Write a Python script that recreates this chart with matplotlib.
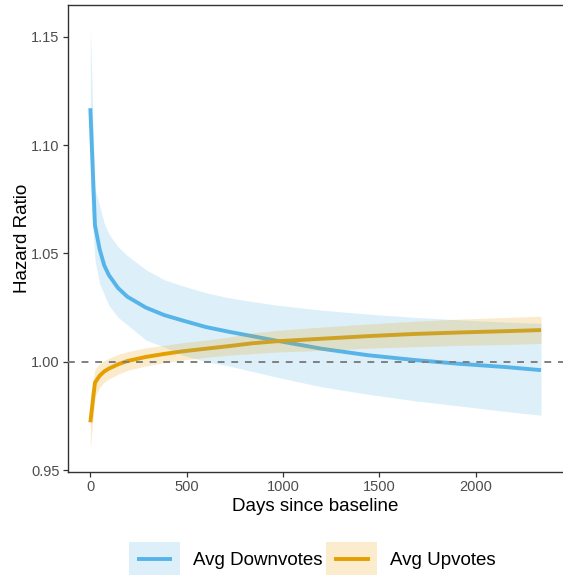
import matplotlib
matplotlib.use("Agg")
import matplotlib.pyplot as plt
from matplotlib.patches import Patch, Rectangle
from matplotlib.lines import Line2D
from matplotlib.legend_handler import HandlerPatch

plt.rcParams['font.family'] = ['Liberation Sans', 'DejaVu Sans']

# values
days = [0, 24, 48, 72, 96, 144, 192, 288, 384, 480, 600, 720, 840, 960,
        1200, 1440, 1680, 1920, 2160, 2339]

down_hr = [1.117, 1.063, 1.052, 1.0445, 1.040, 1.034, 1.030, 1.025, 1.0215, 1.019,
           1.016, 1.0138, 1.0118, 1.0098, 1.006, 1.003, 1.0008, 0.999, 0.9975, 0.9961]
down_hi = [1.155, 1.080, 1.072, 1.064, 1.059, 1.053, 1.049, 1.0425, 1.0378, 1.035,
           1.0318, 1.0295, 1.0278, 1.0262, 1.0238, 1.022, 1.0205, 1.0193, 1.0183, 1.0177]
down_lo = [1.080, 1.047, 1.036, 1.031, 1.026, 1.0205, 1.017, 1.010, 1.0068, 1.003,
           1.000, 0.998, 0.9955, 0.993, 0.9884, 0.985, 0.982, 0.9795, 0.977, 0.9753]

up_hr = [0.972, 0.9903, 0.9935, 0.9955, 0.9968, 0.9988, 1.0003, 1.0022, 1.0036, 1.0048,
         1.0060, 1.0072, 1.0085, 1.0094, 1.0106, 1.0118, 1.0128, 1.0135, 1.0141, 1.0146]
up_hi = [0.984, 0.9965, 0.9990, 1.0005, 1.0016, 1.0034, 1.0046, 1.0064, 1.0076, 1.0088,
         1.0100, 1.0114, 1.0133, 1.0144, 1.0160, 1.0174, 1.0187, 1.0197, 1.0204, 1.0210]
up_lo = [0.960, 0.984, 0.988, 0.9905, 0.992, 0.9942, 0.9960, 0.9980, 0.9996, 1.0008,
         1.0020, 1.0030, 1.0037, 1.0044, 1.0052, 1.0062, 1.0069, 1.0075, 1.0079, 1.0084]

labels = ['Avg Downvotes', 'Avg Upvotes']
colors = ['#56B4E9', '#E69F00']
x_ticks = [0, 500, 1000, 1500, 2000]
y_ticks = [0.95, 1.00, 1.05, 1.10, 1.15]


class RibbonKey(HandlerPatch):
    # ggplot-like legend key: filled box with a short line across it
    def create_artists(self, legend, orig_handle, xdescent, ydescent,
                       width, height, fontsize, trans):
        rect = Rectangle((-xdescent, -ydescent), width, height,
                         facecolor=orig_handle.get_facecolor(),
                         edgecolor='none', transform=trans)
        pad = width * 0.15
        yc = -ydescent + height / 2
        line = Line2D([-xdescent + pad, -xdescent + width - pad], [yc, yc],
                      color=orig_handle.get_edgecolor(), lw=2.8,
                      solid_capstyle='butt', transform=trans)
        return [rect, line]


fig = plt.figure(figsize=(5.63, 5.76), dpi=100)
ax = fig.add_axes([0.1204, 0.1806, 0.8806, 0.8113])

ax.plot(days, down_hr, color=colors[0], lw=2.8, zorder=2, solid_capstyle='butt')
ax.plot(days, up_hr, color=colors[1], lw=2.8, zorder=2, solid_capstyle='butt')
ax.fill_between(days, down_lo, down_hi, color=colors[0], alpha=0.2, lw=0, zorder=3)
ax.fill_between(days, up_lo, up_hi, color=colors[1], alpha=0.2, lw=0, zorder=3)
ax.axhline(1.0, color='#7F7F7F', lw=1.4, linestyle=(0, (3.5, 3.5)), zorder=4)

ax.set_xlim(-117, 2456)
ax.set_ylim(0.9491, 1.1648)
ax.set_xticks(x_ticks)
ax.set_yticks(y_ticks)
ax.set_yticklabels(['%.2f' % v for v in y_ticks])

for s in ax.spines.values():
    s.set_color('#333333')
    s.set_linewidth(1.0)
ax.tick_params(length=3.5, width=0.9, color='#333333', labelcolor='#4D4D4D',
               labelsize=10.5, pad=2.5)

ax.set_xlabel('Days since baseline', fontsize=13.5, labelpad=3)
ax.set_ylabel('Hazard Ratio', fontsize=13.5, labelpad=0)

handles = [Patch(facecolor='#DDF0FA', edgecolor=colors[0]),
           Patch(facecolor='#FAECCC', edgecolor=colors[1])]
fig.legend(handles, labels, handler_map={Patch: RibbonKey()}, ncol=2,
           loc='center', bbox_to_anchor=(0.555, 0.030), frameon=False,
           fontsize=13.5, handlelength=2.72, handleheight=2.3,
           handletextpad=0.7, columnspacing=0.2, borderpad=0)

fig.savefig('out.png', dpi=100)
